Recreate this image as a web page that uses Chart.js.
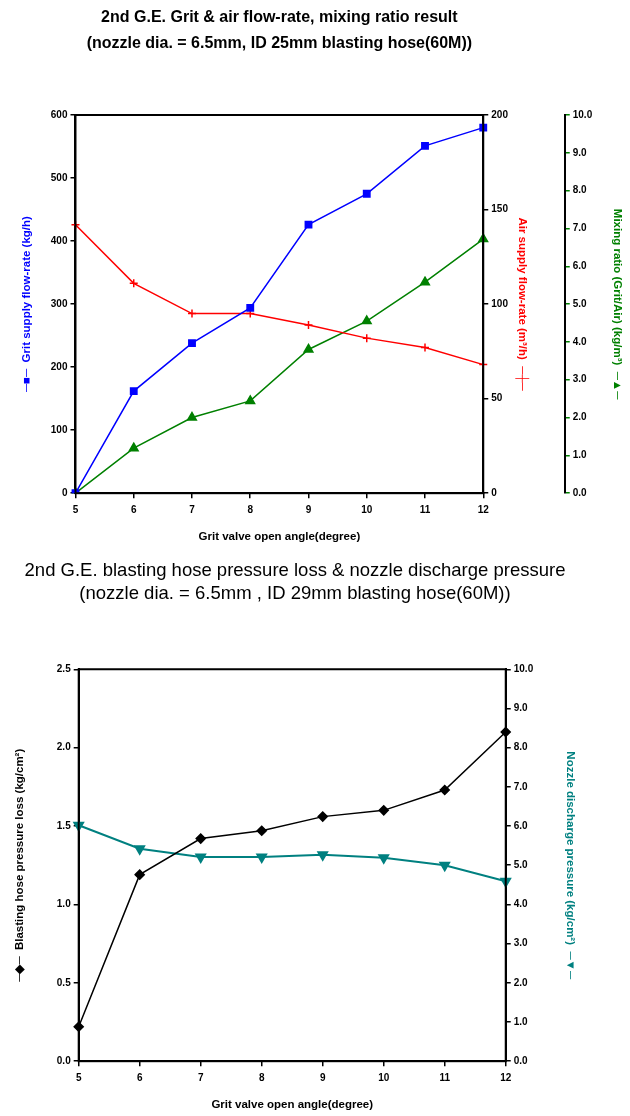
<!DOCTYPE html>
<html>
<head>
<meta charset="utf-8">
<script src="https://cdn.jsdelivr.net/npm/chart.js@4"></script>
<style>
  body{ margin:0; background:#fff; width:630px; height:1116px; overflow:hidden; position:relative; }
  .box{ position:absolute; width:630px; }
  #top{ left:0; top:0; height:550px; }
  /* shifted so the full-width title centres over the plot */
  #bot{ left:-25px; top:550px; height:566px; }
</style>
</head>
<body>
<div class="box" id="top"><canvas id="c1" width="630" height="550"></canvas></div>
<div class="box" id="bot"><canvas id="c2" width="630" height="566"></canvas></div>
<script>
// valve angle categories
const angles = ['5','6','7','8','9','10','11','12'];
// chart 1
const gritFlow = [0, 162, 238, 294, 426, 475, 551, 580];
const airFlow = [142, 111, 95, 95, 89, 82, 77, 68];
const mixRatio = [0, 1.19, 2.0, 2.44, 3.8, 4.55, 5.58, 6.72];
// chart 2
const hoseLoss = [0.22, 1.19, 1.42, 1.47, 1.56, 1.60, 1.73, 2.10];
const nozzlePress = [6.02, 5.42, 5.21, 5.21, 5.27, 5.19, 5.0, 4.59];

const FF = '"Liberation Sans", Arial, sans-serif';
const tickFont = {family: FF, size: 10, weight: 'bold'};
const titleFont = {family: FF, size: 11.5, weight: 'bold'};

// draws the closed frame round the plot area
const frame = {
  id: 'frame',
  afterDraw(chart){
    const a = chart.chartArea, c = chart.ctx;
    c.save(); c.strokeStyle = '#000'; c.lineWidth = 2;
    c.strokeRect(a.left, a.top, a.right - a.left, a.bottom - a.top);
    c.restore();
  }
};

function yAxis(pos, tickColor, titleColor, min, max, step, dec, title, pad){
  return {
    position: pos, min, max,
    ticks: {stepSize: step, color: '#000', font: tickFont, padding: 3,
      callback: v => dec ? v.toFixed(1) : v},
    grid: {drawOnChartArea: false, drawTicks: true, tickLength: 5, color: tickColor, lineWidth: 1.5},
    border: {display: true, color: '#000', width: 2},
    title: {display: true, text: title, color: titleColor, font: titleFont, padding: pad}
  };
}

function xAxis(){
  return {
    ticks: {color: '#000', font: tickFont, padding: 6, maxRotation: 0},
    grid: {drawOnChartArea: false, drawTicks: true, tickLength: 5, color: '#000', lineWidth: 1.5},
    border: {display: true, color: '#000', width: 2},
    title: {display: true, text: 'Grit valve open angle(degree)', color: '#000', font: titleFont, padding: {top: 8}}
  };
}

function ds(label, data, color, axis, style, extra){
  return Object.assign({
    label, data, yAxisID: axis,
    borderColor: color, backgroundColor: color,
    borderWidth: 1.5, pointStyle: style, pointRadius: 4,
    pointBorderColor: color, pointBackgroundColor: color, tension: 0
  }, extra || {});
}

new Chart(document.getElementById('c1'), {
  type: 'line',
  data: {
    labels: angles,
    datasets: [
      ds('Grit', gritFlow, '#0000ff', 'y', 'rect', {pointRadius: 4.5}),
      ds('Air', airFlow, '#ff0000', 'y1', 'cross', {pointBorderWidth: 1.5}),
      ds('Ratio', mixRatio, '#008000', 'y2', 'triangle', {pointRadius: 5})
    ]
  },
  options: {
    responsive: false, animation: false,
    layout: {padding: {left: 4, right: 3, bottom: 2}},
    plugins: {
      legend: {display: false}, tooltip: {enabled: false},
      title: {
        display: true, fullSize: false, color: '#000',
        text: ['2nd G.E. Grit & air flow-rate, mixing ratio result',
               '(nozzle dia. = 6.5mm, ID 25mm blasting hose(60M))'],
        font: {family: FF, size: 16, weight: 'bold', lineHeight: 1.625},
        padding: {top: 5, bottom: 58}
      }
    },
    scales: {
      x: xAxis(),
      y: yAxis('left', '#000', '#0000ff', 0, 600, 100, false,
        '\u2500\u25A0\u2500  Grit supply flow-rate (kg/h)', {top: 16, bottom: 14}),
      y1: yAxis('right', '#000', '#ff0000', 0, 200, 50, false,
        'Air supply flow-rate (m\u00B3/h)  \u2500\u253C\u2500', {top: 36, bottom: 4}),
      y2: yAxis('right', '#008000', '#008000', 0, 10, 1, true,
        'Mixing ratio (Grit/Air) (kg/m\u00B3)  \u2500\u25B2\u2500', {top: 3, bottom: 15})
    }
  },
  plugins: [frame]
});

new Chart(document.getElementById('c2'), {
  type: 'line',
  data: {
    labels: angles,
    datasets: [
      ds('Loss', hoseLoss, '#000000', 'y', 'rectRot', {pointRadius: 4.5}),
      ds('Nozzle', nozzlePress, '#008080', 'y1', 'triangle', {pointRadius: 5, pointRotation: 180, borderWidth: 2})
    ]
  },
  options: {
    responsive: false, animation: false,
    layout: {padding: {left: 29, right: 19, bottom: 0}},
    plugins: {
      legend: {display: false}, tooltip: {enabled: false},
      title: {
        display: true, color: '#000',
        text: ['2nd G.E. blasting hose pressure loss & nozzle discharge pressure',
               '(nozzle dia. = 6.5mm , ID 29mm blasting hose(60M))'],
        font: {family: FF, size: 18.5, weight: 'normal', lineHeight: 1.25},
        padding: {top: 9, bottom: 64}
      }
    },
    scales: {
      x: xAxis(),
      y: yAxis('left', '#000', '#000', 0, 2.5, 0.5, true,
        '\u2500\u25C6\u2500  Blasting hose pressure loss (kg/cm\u00B2)', {top: 9, bottom: 27}),
      y1: yAxis('right', '#000', '#008080', 0, 10, 1, true,
        'Nozzle discharge pressure (kg/cm\u00B2)  \u2500\u25BC\u2500', {top: 9, bottom: 27})
    }
  },
  plugins: [frame]
});
</script>
</body>
</html>
